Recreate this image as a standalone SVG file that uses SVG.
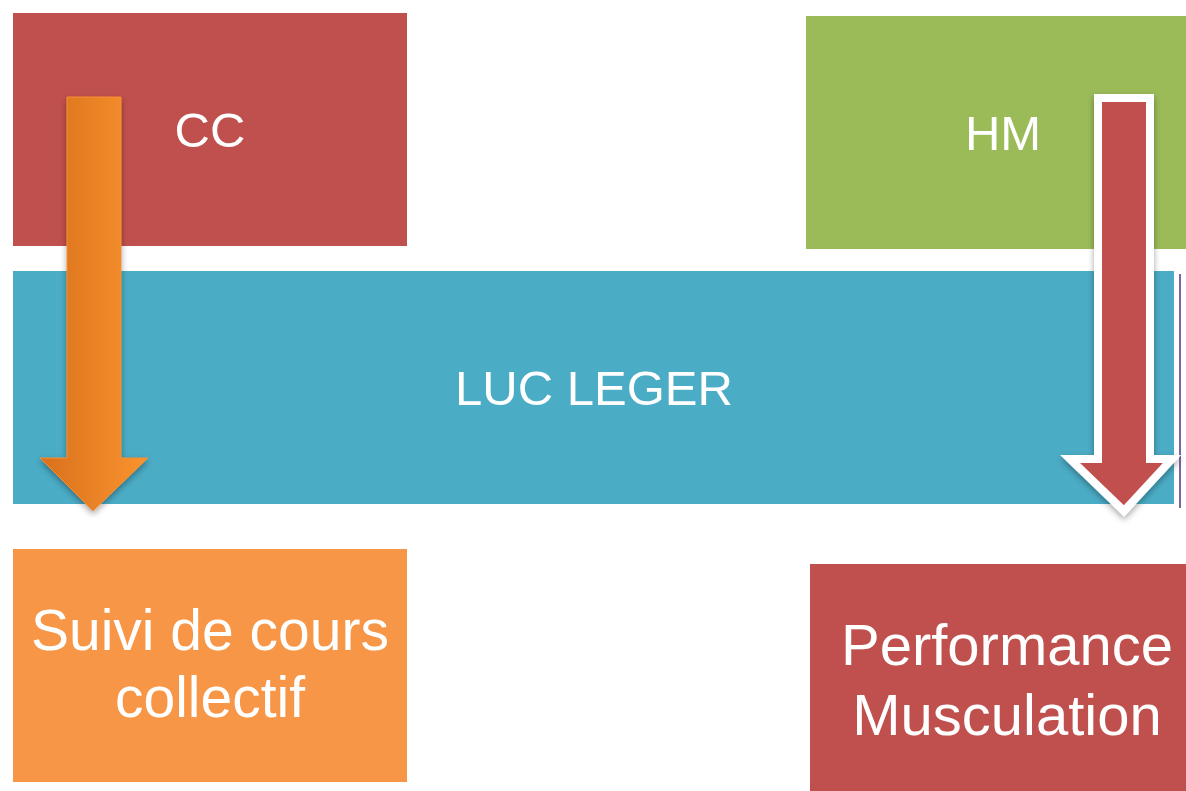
<svg xmlns="http://www.w3.org/2000/svg" width="1186" height="791" viewBox="0 0 1186 791">
<style>
.t{font-family:"Liberation Sans","Open Sans",sans-serif;fill:#fff;text-anchor:middle}
.top{font-size:49px}
.bot{font-size:57px}
.bot2{font-size:58px}
</style>
<defs>
<linearGradient id="og" x1="0" y1="0" x2="1" y2="0">
<stop offset="0" stop-color="#D9701C"/>
<stop offset="1" stop-color="#FA942F"/>
</linearGradient>
<filter id="sh" x="-30%" y="-10%" width="160%" height="120%">
<feDropShadow dx="0" dy="3" stdDeviation="3" flood-color="#000" flood-opacity="0.35"/>
</filter>
</defs>
<rect width="1186" height="791" fill="#fff"/>
<g id="cc"><rect x="13" y="13" width="394" height="233" fill="#C0504D"/><text class="t top" x="210" y="147">CC</text></g>
<g id="hm"><rect x="806" y="16" width="380" height="233" fill="#9BBB59"/><text class="t top" x="1003" y="150">HM</text></g>
<g id="luc"><rect x="13" y="271" width="1161" height="233" fill="#4BACC6"/><text class="t top" x="594" y="405">LUC LEGER</text></g>
<g id="suivi"><rect x="13" y="549" width="394" height="233" fill="#F79646"/><text class="t bot" x="210" y="650">Suivi de cours</text><text class="t bot" x="210" y="717">collectif</text></g>
<g id="perf"><rect x="810" y="564" width="376" height="227" fill="#C0504D"/><text class="t bot2" x="1007" y="665">Performance</text><text class="t bot2" x="1007" y="735">Musculation</text></g>
<g id="connectors">
<line x1="1180" y1="274" x2="1180" y2="508" stroke="#8064A2" stroke-width="2"/>
<path d="M67,97 H121 V458 H148 L93,511 L40,458 H67 Z" fill="url(#og)" stroke="#F58F33" stroke-width="1" filter="url(#sh)"/>
<path d="M1098,98 H1150 V459 H1172 L1124,511 L1070,459 H1098 Z" fill="#C0504D" stroke="#fff" stroke-width="8" filter="url(#sh)"/>
</g>
</svg>
